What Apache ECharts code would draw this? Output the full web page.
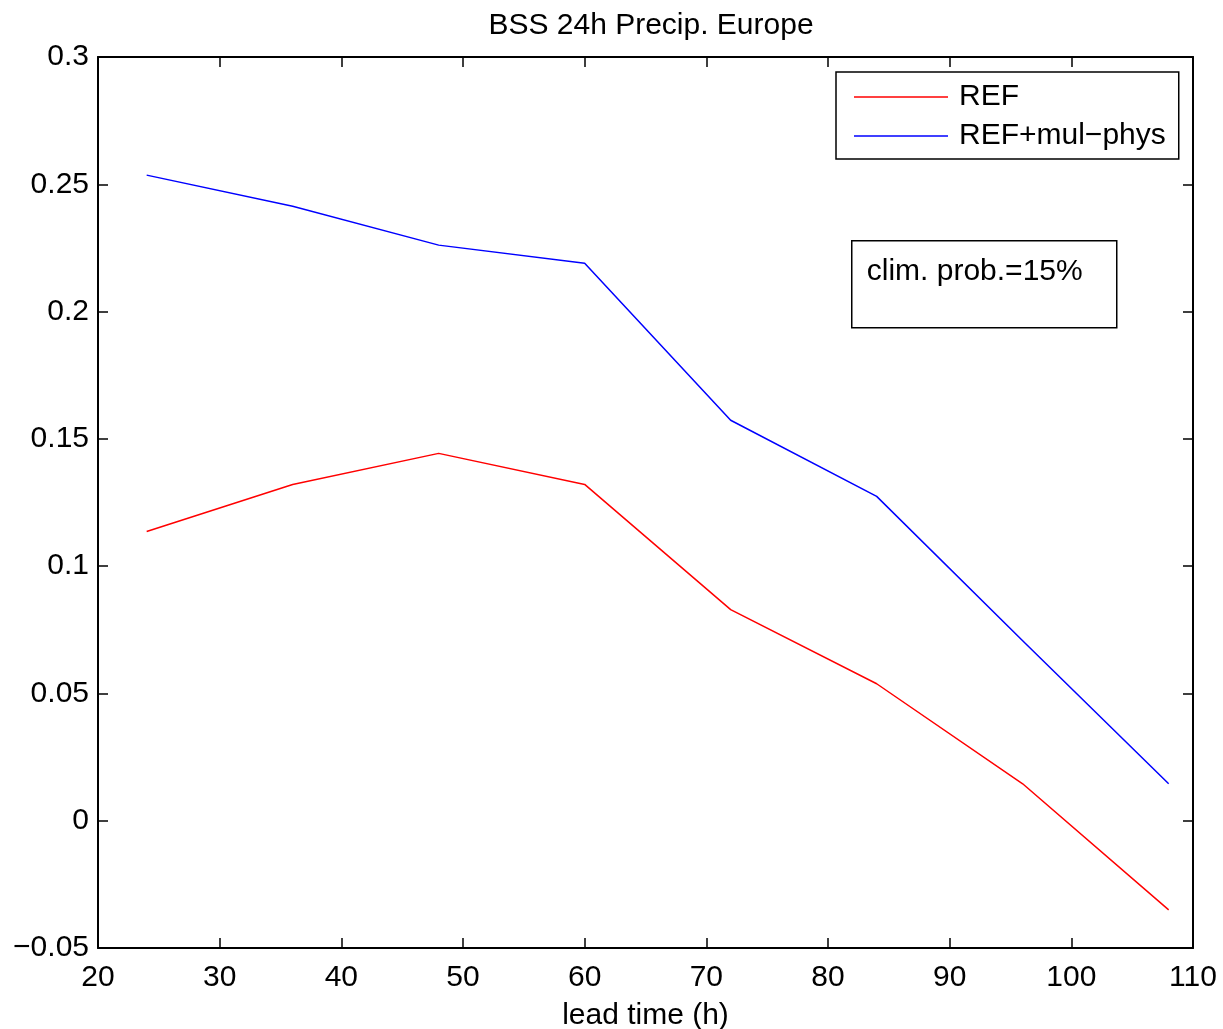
<!DOCTYPE html>
<html>
<head>
<meta charset="utf-8">
<title>BSS 24h Precip. Europe</title>
<script src="https://cdn.jsdelivr.net/npm/echarts@6/dist/echarts.min.js"></script>
<style>
  html, body { margin: 0; padding: 0; background: #fff; }
  #main { width: 1223px; height: 1029px; }
</style>
</head>
<body>
<div id="main"></div>
<script>
var leadTime = [24, 36, 48, 60, 72, 84, 96, 108];
var refValues = [0.1136, 0.1321, 0.1443, 0.1321, 0.0829, 0.0538, 0.0145, -0.0350];
var mulPhysValues = [0.2536, 0.2414, 0.2261, 0.2190, 0.1573, 0.1274, 0.0707, 0.0145];
var seriesNames = ['REF', 'REF+mul\u2212phys'];
var noteText = 'clim. prob.=15%';

var fontFamily = '"Liberation Sans", Arial, Helvetica, sans-serif';
var fs = 30;

function pairs(xs, ys) {
  var out = [];
  for (var i = 0; i < xs.length; i++) {
    out.push([xs[i], ys[i]]);
  }
  return out;
}

// matlab style minus sign
function fmt(v) {
  return String(v).replace('-', '\u2212');
}

var boxLine = { color: '#000', width: 2 };
var tickLine = { color: '#000', width: 1.5 };

var chart = echarts.init(document.getElementById('main'));
var option;

option = {
  animation: false,
  backgroundColor: '#fff',
  textStyle: { fontFamily: fontFamily, color: '#000' },
  title: {
    text: 'BSS 24h Precip. Europe',
    left: 646,
    textAlign: 'center',
    top: 6,
    textStyle: { fontFamily: fontFamily, fontSize: fs, fontWeight: 'normal', color: '#000' }
  },
  grid: { left: 98, right: 30, top: 57, bottom: 81, outerBoundsMode: 'none' },
  legend: {
    orient: 'vertical',
    left: 836,
    top: 72,
    data: seriesNames,
    icon: 'rect',
    borderColor: '#000',
    borderWidth: 1.5,
    padding: [10, 13, 8, 18],
    itemWidth: 94,
    itemHeight: 1.5,
    itemGap: 9,
    textStyle: { fontFamily: fontFamily, fontSize: fs, color: '#000', padding: [0, 0, 0, 6] }
  },
  xAxis: [
    {
      type: 'value',
      min: 20,
      max: 110,
      interval: 10,
      name: 'lead time (h)',
      nameLocation: 'middle',
      nameGap: 53,
      nameTextStyle: { fontFamily: fontFamily, fontSize: fs, color: '#000' },
      axisLine: { onZero: false, lineStyle: boxLine },
      axisTick: { inside: true, length: 10, lineStyle: tickLine },
      axisLabel: { fontFamily: fontFamily, fontSize: fs, color: '#000', margin: 15, showMinLabel: true, showMaxLabel: true },
      splitLine: { show: false }
    },
    {
      type: 'value',
      position: 'top',
      min: 20,
      max: 110,
      interval: 10,
      axisLine: { onZero: false, lineStyle: boxLine },
      axisTick: { inside: true, length: 10, lineStyle: tickLine },
      axisLabel: { show: false },
      splitLine: { show: false }
    }
  ],
  yAxis: [
    {
      type: 'value',
      min: -0.05,
      max: 0.3,
      interval: 0.05,
      axisLine: { show: true, onZero: false, lineStyle: boxLine },
      axisTick: { show: true, inside: true, length: 10, lineStyle: tickLine },
      axisLabel: {
        fontFamily: fontFamily,
        fontSize: fs,
        color: '#000',
        margin: 9,
        showMinLabel: true,
        showMaxLabel: true,
        formatter: function (v) { return fmt(Math.round(v * 100) / 100); }
      },
      splitLine: { show: false }
    },
    {
      type: 'value',
      position: 'right',
      min: -0.05,
      max: 0.3,
      interval: 0.05,
      axisLine: { show: true, onZero: false, lineStyle: boxLine },
      axisTick: { show: true, inside: true, length: 10, lineStyle: tickLine },
      axisLabel: { show: false },
      splitLine: { show: false }
    }
  ],
  graphic: [
    {
      type: 'group',
      left: 851,
      top: 240,
      children: [
        {
          type: 'rect',
          shape: { x: 0, y: 0, width: 265, height: 87 },
          style: { fill: '#fff', stroke: '#000', lineWidth: 1.5 }
        },
        {
          type: 'text',
          x: 15,
          y: 31,
          style: {
            text: noteText,
            fontFamily: fontFamily,
            fontSize: fs,
            fill: '#000',
            verticalAlign: 'middle'
          }
        }
      ]
    }
  ],
  series: [
    {
      name: seriesNames[0],
      type: 'line',
      symbol: 'none',
      color: '#ff0000',
      lineStyle: { color: '#ff0000', width: 1.5 },
      data: pairs(leadTime, refValues)
    },
    {
      name: seriesNames[1],
      type: 'line',
      symbol: 'none',
      color: '#0000ff',
      lineStyle: { color: '#0000ff', width: 1.5 },
      data: pairs(leadTime, mulPhysValues)
    }
  ]
};

chart.setOption(option);
</script>
</body>
</html>
